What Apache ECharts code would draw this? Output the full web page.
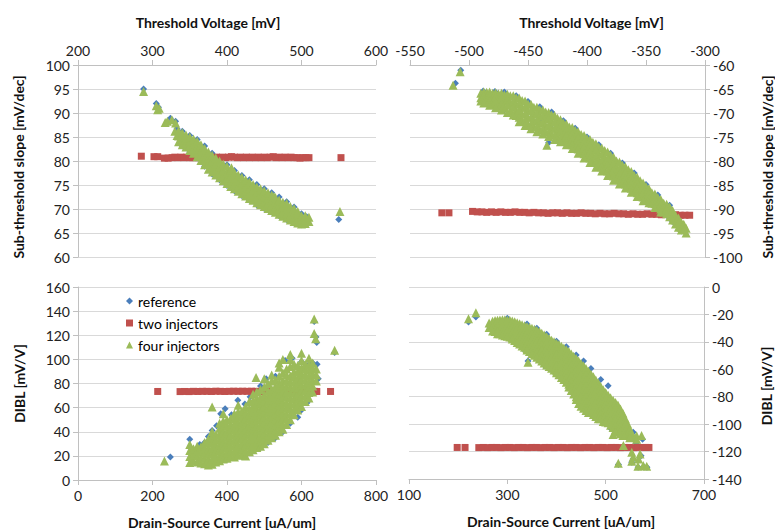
<!DOCTYPE html>
<html><head><meta charset="utf-8">
<script src="https://cdn.jsdelivr.net/npm/echarts/dist/echarts.min.js"></script>
<style>html,body{margin:0;padding:0;background:#fff}#c{width:775px;height:531px}</style>
</head><body><div id="c"></div>
<script>
// ---- series names ----
const seriesNames = ['reference', 'two injectors', 'four injectors'];

// ---- axis ranges [min, max, interval] ----
const tlXRange = [200, 600, 100];
const tlYRange = [60, 100, 5];
const trXRange = [-550, -300, 50];
const trYRange = [-100, -60, 5];
const blXRange = [0, 800, 200];
const blYRange = [0, 160, 20];
const brXRange = [100, 700, 200];
const brYRange = [-140, 0, 20];

// ---- axis titles ----
const vthTitle = 'Threshold Voltage [mV]';
const ssTitle = 'Sub-threshold slope [mV/dec]';
const dibTitle = 'DIBL [mV/V]';
const idsTitle = 'Drain-Source Current [uA/um]';

// ================= TOP-LEFT: SS vs Vth (nFET) =================
// columns: [x, y1, y2, ...]
const tlRef = [
 [288,95.0],[305,92.0],[308,91.2],[324,88.9],[331,88.3],[333,86.7],
 [340,86.2,84.5,83.1],[350,85.3,83.6,81.9],[360,84.5,82.5,80.6],[370,83.1,81.0,78.9],
 [380,81.6,79.5,77.3],[390,80.4,78.3,76.1],[400,79.2,77.0,74.9],[410,78.0,75.9,73.8],
 [420,77.0,74.9,72.8],[430,76.1,74.0,71.8],[440,75.1,73.0,70.9],[450,74.2,72.1,70.1],
 [460,73.4,71.3,69.4],[470,72.5,70.5,68.6],[480,71.5,69.6,67.8],[490,70.4,68.8,67.1],
 [500,69.0,67.8,66.7],[507,68.4,67.2],[550,67.8]
];
const tlTwo = [
 [285,81.0],[302,80.9],[307,80.9],[316,80.6],[321,80.6],[326,80.7],[330,80.8],[334,80.7],[338,80.8],
 [342,80.7],[346,80.8],[350,80.7],[354,80.7],[358,80.8],[362,80.7],[366,80.8],[370,80.7],[374,80.8],
 [378,80.6],[382,80.7],[386,80.8],[390,80.7],[394,80.8],[398,80.7],[402,80.8],[406,80.9],[410,80.8],
 [414,80.7],[418,80.8],[422,80.7],[426,80.8],[430,80.7],[434,80.8],[438,80.7],[442,80.8],[446,80.7],
 [450,80.8],[454,80.7],[458,80.8],[462,80.9],[466,80.7],[470,80.8],[474,80.7],[478,80.8],[482,80.7],
 [486,80.8],[490,80.7],[494,80.7],[498,80.6],[502,80.7],[506,80.7],[510,80.7],[553,80.7]
];
const tlFour = [
 [288,94.5],[305,91.5],[307,90.7],[309,91.0],[317,88.0],[320,88.3],[326,88.6],[331,87.9],[330,86.2],[333,85.3],
 [335,84.0,85.2,86.3],[340,83.4,84.3,85.3,85.9],[345,82.9,83.8,84.8,85.4],[350,82.2,83.2,84.1,85.0],
 [355,81.6,82.6,83.6,84.6],[360,80.9,81.9,83.0,84.1],[365,80.1,81.1,82.2,83.4],[370,79.2,80.3,81.4,82.6],
 [375,78.3,79.5,80.7,81.9],[380,77.7,78.8,80.0,81.2],[385,77.1,78.2,79.4,80.6],[390,76.5,77.6,78.8,80.0],
 [395,75.9,77.0,78.2,79.4],[400,75.3,76.4,77.6,78.9],[405,74.7,75.8,77.0,78.2],[406,78.6],
 [410,74.2,75.3,76.4,77.6],[415,73.7,74.8,75.9,77.1],[420,73.2,74.3,75.4,76.6],[425,72.7,73.8,74.9,76.1],
 [430,72.2,73.3,74.4,75.6],[435,71.8,72.9,74.0,75.1],[440,71.3,72.4,73.5,74.6],[445,70.9,72.0,73.1,74.2],
 [450,70.5,71.6,72.7,73.8],[455,70.1,71.2,72.3,73.4],[460,69.7,70.8,71.9,72.9],[463,72.6],
 [465,69.3,70.4,71.5,72.4],[470,68.9,70.0,71.0,71.9],[475,68.5,69.5,70.5,71.4],[480,68.1,69.1,70.1,71.2],
 [485,67.7,68.7,69.7,70.5],[490,67.4,68.3,69.3,70.1],[495,67.1,68.0,68.9,69.5],[500,66.9,67.8,68.6],
 [505,67.0,67.8,68.6],[510,67.4,68.3],[551.6,69.5]
];

// ================= TOP-RIGHT: SS vs Vth (pFET) =================
const trRef = [
 [-507,-61.1],[-511.5,-63.8],[-432.5,-76.2],
 [-488,-65.4,-66.8,-68.0],[-478,-65.5,-67.0,-68.8],[-470,-65.6,-67.5,-69.4],[-460,-66.4,-68.5,-70.8],
 [-450,-67.6,-70.0,-72.6],[-440,-68.7,-71.3,-73.8],[-430,-69.8,-72.4,-74.9],[-420,-71.6,-73.8,-76.0],
 [-410,-73.2,-75.3,-77.4],[-400,-75.0,-77.2,-79.3],[-390,-76.6,-79.0,-81.3],[-380,-78.4,-80.8,-83.0],
 [-370,-80.4,-82.7,-84.8],[-360,-82.5,-84.6,-86.6],[-350,-84.9,-86.7,-88.3],[-340,-87.1,-88.6,-90.0],
 [-330,-89.2,-90.7,-92.0],[-325,-93.2],[-320,-94.6],[-318,-93.8]
];
const trTwo = [
 [-523,-90.8],[-517,-90.8],[-497,-90.5],[-493,-90.6],[-489,-90.6],[-485,-90.7],[-481,-90.6],[-477,-90.7],
 [-473,-90.6],[-469,-90.7],[-465,-90.7],[-461,-90.6],[-457,-90.7],[-453,-90.7],[-449,-90.8],[-445,-90.7],
 [-441,-90.8],[-437,-90.8],[-433,-90.9],[-429,-90.8],[-425,-90.8],[-421,-90.9],[-417,-90.8],[-413,-90.9],
 [-409,-90.9],[-405,-90.8],[-401,-90.9],[-397,-90.9],[-393,-91.0],[-389,-90.9],[-385,-91.0],[-381,-91.0],
 [-377,-90.9],[-373,-91.0],[-369,-91.0],[-365,-91.1],[-361,-91.0],[-357,-91.1],[-353,-91.1],[-349,-91.0],
 [-345,-91.1],[-341,-91.1],[-337,-91.2],[-333,-91.1],[-329,-91.2],[-325,-91.2],[-321,-91.3],[-317,-91.3],[-313,-91.3]
];
const trFour = [
 [-513.5,-64.2],[-507.5,-61.4],[-434,-76.7],
 [-490,-65.9,-66.8,-67.5],[-485,-65.7,-66.7,-67.7],[-480,-65.9,-67.0,-68.1],[-475,-66.0,-67.2,-68.5],
 [-470,-66.2,-67.5,-68.9],[-465,-66.4,-67.8,-69.5],[-460,-66.8,-68.2,-69.5,-70.5],[-455,-67.4,-68.8,-70.2,-71.5],
 [-450,-68.1,-69.5,-70.9,-72.3],[-445,-68.8,-70.2,-71.6,-72.9],[-440,-69.3,-70.7,-72.1,-73.5],
 [-435,-69.8,-71.2,-72.6,-74.0],[-430,-70.4,-71.8,-73.2,-74.5],[-425,-71.1,-72.5,-73.9,-75.1],
 [-420,-72.1,-73.4,-74.6,-75.6],[-415,-72.9,-74.1,-75.3,-76.2],[-410,-73.6,-74.8,-76.0,-77.1],
 [-405,-74.5,-75.7,-76.9,-78.1],[-400,-75.3,-76.6,-77.8,-79.0],[-395,-76.1,-77.4,-78.7,-80.0],
 [-390,-77.1,-78.4,-79.7,-81.0],[-385,-77.8,-79.2,-80.5,-81.8],[-380,-78.8,-80.1,-81.4,-82.7],
 [-375,-80.0,-81.3,-82.5,-83.7],[-370,-80.9,-82.1,-83.3,-84.5],[-365,-81.8,-83.0,-84.2,-85.3],
 [-360,-83.0,-84.2,-85.3,-86.3],[-355,-84.1,-85.2,-86.2,-87.1],[-350,-85.3,-86.3,-87.2,-88.0],
 [-345,-86.6,-87.6,-88.8],[-340,-87.6,-88.7,-89.7],[-335,-88.8,-89.8,-90.6],[-330,-89.6,-90.6,-91.6],
 [-325,-91.3,-92.3,-93.1],[-320,-92.8,-93.8,-94.4],[-316,-94.0,-95.0],
 [-487.5,-65.6,-66.4,-67.2,-67.9],[-482.5,-65.6,-66.4,-67.4,-68.4],[-477.5,-65.8,-66.6,-67.7,-68.9],
 [-472.5,-65.9,-66.8,-68.0,-69.4],[-467.5,-66.1,-67.1,-68.4,-69.9],[-462.5,-66.4,-67.5,-68.8,-70.4],
 [-457.5,-66.9,-68.0,-69.4,-70.9,-71.8],[-452.5,-67.5,-68.8,-70.2,-71.6,-72.6],[-447.5,-68.2,-69.5,-70.9,-72.3,-73.3],
 [-442.5,-68.8,-70.0,-71.4,-72.8,-73.9],[-437.5,-69.3,-70.5,-71.9,-73.3,-74.4],[-432.5,-69.9,-71.1,-72.5,-73.9,-74.9],
 [-427.5,-70.5,-71.8,-73.2,-74.6,-75.5],[-422.5,-71.4,-72.6,-73.9,-75.2,-76.0],[-417.5,-72.3,-73.5,-74.7,-75.9,-76.6],
 [-412.5,-73.0,-74.2,-75.4,-76.6,-77.4],[-407.5,-73.9,-75.1,-76.3,-77.5,-78.4],[-402.5,-74.7,-75.9,-77.2,-78.5,-79.4],
 [-397.5,-75.5,-76.8,-78.1,-79.4,-80.3],[-392.5,-76.4,-77.7,-79.0,-80.3,-81.3],[-387.5,-77.3,-78.6,-79.9,-81.2,-82.1],
 [-382.5,-78.1,-79.5,-80.8,-82.1,-83.0],[-377.5,-79.2,-80.5,-81.8,-83.1,-84.0],[-372.5,-80.2,-81.5,-82.7,-83.9,-84.8],
 [-367.5,-81.2,-82.4,-83.6,-84.8,-85.6],[-362.5,-82.2,-83.4,-84.6,-85.7,-86.5],[-357.5,-83.4,-84.5,-85.6,-86.6,-87.4],
 [-352.5,-84.6,-85.6,-86.6,-87.5,-88.3],[-347.5,-85.8,-86.8,-87.8,-88.7],[-342.5,-86.9,-87.9,-88.9,-89.7],
 [-337.5,-88.0,-89.0,-90.0,-90.6],[-332.5,-89.0,-90.0,-91.0],[-327.5,-90.3,-91.3,-92.3],[-322.5,-91.9,-92.9,-93.8],
 [-318,-93.2,-94.2]
];

// ================= BOTTOM-LEFT: DIBL vs Ids (nFET) =================
const blRef = [
 [248,19.0],[300,33.8],[318,25.5],[336,24.5],[327,29.5],[340,31],[350,36],[360,41],[372,45],[383,55],
 [395,59],[412,54],[429,66.2],[448,63],[462,69],[490,78],[505,84],[530,86],[556,99],[575,101],[600,98],
 [615,95],[630,97],[370,14],[400,17],[440,19.5],[470,24],[490,27],[510,31],[530,35],[550,40],[570,47],
 [590,52],[600,58],[615,64],[628,72],[645,84],[634,131.5],[639,118.5],[641,114],[689,105.8],[642,96],
 [450,40],[500,55],[550,70],[420,35]
];
const blTwo = [
 [214,73.4],[274,73.3],[286,73.4],[298,73.3],[310,73.5],[322,73.4],[334,73.5],[346,73.5],[358,73.4],
 [370,73.6],[382,73.5],[394,73.4],[406,73.5],[418,73.6],[430,73.5],[442,73.6],[454,73.5],[466,73.6],
 [478,73.5],[490,73.4],[502,73.5],[514,73.6],[526,73.5],[538,73.5],[550,73.4],[562,73.6],[574,73.5],
 [586,73.4],[598,73.5],[610,73.5],[622,73.4],[634,73.5],[641,73.4],[678,73.4]
];
const blFour = [
 [232,15.7],[300,14.5,19.5,24.5,29.5],[310,16,21,26],[320,15,20,24.5,28],[330,14,18.5,23,27.5],
 [340,13.5,18,22.5,27,31],[350,12.5,17,21.5,26,30.5,34],[360,13,17.5,22,26.5,31,36,40,60.5],
 [370,15,19.5,24,28.5,33,37.5],[380,16,20.5,25,29.5,34,38.5,43,47],
 [390,17.5,22,26.5,31,35.5,40,44.5,49,55],[400,18,22.5,27,31.5,36,40.5,45,50],
 [410,19.5,24,28.5,33,37.5,42,46.5,51],[420,19,23.5,28,32.5,37,41.5,46,50.5,55],
 [430,20.5,25,29.5,34,38.5,43,47.5,52,56.5,62],[440,21,25.5,30,34.5,39,43.5,48,52.5,57],
 [450,20,24.5,29,33.5,38,42.5,47,51.5,56,61],[460,23.5,28,32.5,37,41.5,46,50.5,55,59.5,65],
 [470,25,29.5,34,38.5,43,47.5,52,56.5,61,66,71],[478,85],
 [480,27,31.5,36,40.5,45,49.5,54,58.5,63,67.5,73],[490,28,32.5,37,41.5,46,50.5,55,59.5,64,68.5,75],
 [500,30,34.5,39,43.5,48,52.5,57,61.5,66,70.5,77,84],[510,33,37.5,42,46.5,51,55.5,60,64.5,69,73.5,80],
 [520,35,39.5,44,48.5,53,57.5,62,66.5,71,75.5,82,87],[530,37,41.5,46,50.5,55,59.5,64,68.5,73,77.5,83],
 [540,40,44.5,49,53.5,58,62.5,67,71.5,76,80.5,86,93.5,97],[550,42,46.5,51,55.5,60,64.5,69,73.5,78,82.5,89,100],
 [560,46,50.5,55,59.5,64,68.5,73,77.5,82,87,92],[570,50,54.5,59,63.5,68,72.5,77,81.5,86,94,100,104],
 [580,54,58.5,63,67.5,72,76.5,81,85.5,90,96],[590,58,62.5,67,71.5,76,80.5,85,90,95],
 [600,61,65.5,70,74.5,79,83.5,88,93,99,105],[610,65,69.5,74,78.5,83,87.5,92,96],
 [620,68,72.5,77,81.5,86,91,95.5,101],[630,73,78,83,88,93,97],[640,82,87,92],
 [634,121.5,133.5],[638,117],[689,107.5]
];

// ================= BOTTOM-RIGHT: DIBL vs Ids (pFET) =================
const brRef = [
 [221,-25.5],[236,-21.8],[265,-29.8],[280,-33.5],[290,-35.5],[300,-37],[310,-38.5],[320,-41],[332,-45],
 [342,-54],[350,-48.5],[362,-52.5],[375,-57],[390,-60.5],[400,-63.5],[410,-66],[420,-70],[430,-74],
 [440,-81],[450,-87],[460,-91],[470,-93],[480,-95.5],[490,-97],[500,-99],[510,-103],[520,-106],[530,-108],
 [490,-67.5],[470,-59.5],[455,-54],[440,-49.5],[420,-43.5],[400,-39.5],[380,-34.5],[360,-30],[340,-27],
 [300,-22.8],[556,-106],[545,-107],[575,-111],[562,-114],[526,-129.5],[566,-131.5],[578,-131.3],
 [584,-131.5],[556,-125.5],[572,-123],[553,-127.8],[512,-92],[525,-92],[505,-72]
];
const brTwo = [
 [198,-117],[214,-117],[242,-117.1],[251,-117],[260,-117.1],[269,-117],[278,-117],[287,-117.1],[296,-117],
 [305,-117],[314,-117.1],[323,-117],[332,-117],[341,-117.1],[350,-117],[359,-117],[368,-117.1],[377,-117],
 [386,-117],[395,-117.1],[404,-117],[413,-117],[422,-117.1],[431,-117],[440,-117],[449,-117.1],[458,-117],
 [467,-117],[476,-117.1],[485,-117],[494,-117],[503,-117.1],[512,-117],[521,-117],[530,-117.1],[539,-117],
 [548,-117],[557,-117.1],[566,-117],[575,-117],[582,-117],[588,-117]
];
const brFour = [
 [221,-23.1],[236,-18.7],[263,-26.3,-29.5],[275,-24.5,-28.5,-32.5],[285,-24,-28,-32,-34],
 [295,-23.8,-27.8,-31.8,-35.5],[305,-24.2,-28.2,-32.2,-36.5],[315,-25.3,-29.3,-33.3,-37.3,-39],
 [325,-26.8,-30.8,-34.8,-38.8,-41.5],[335,-28.2,-32.2,-36.2,-40.2,-44],[342,-54.8],
 [345,-29.3,-33.3,-37.3,-41.3,-45.3,-47],[355,-30.8,-34.8,-38.8,-42.8,-46.8,-49.8],
 [365,-32.5,-36.5,-40.5,-44.5,-48.5,-52.5],[375,-35,-39,-43,-47,-51,-55.5],
 [385,-37.5,-41.5,-45.5,-49.5,-53.5,-58],[395,-40,-44,-48,-52,-56,-60.5],
 [405,-42,-46,-50,-54,-58,-62,-64],[415,-44.5,-48.5,-52.5,-56.5,-60.5,-64.5,-67.5],
 [425,-47,-51,-55,-59,-63,-67,-71,-73],[435,-50.5,-54.5,-58.5,-62.5,-66.5,-70.5,-74.5,-78],
 [445,-54,-58,-62,-66,-70,-74,-78,-82,-85],[455,-57.5,-61.5,-65.5,-69.5,-73.5,-77.5,-81.5,-85.5,-88.5],
 [465,-61.5,-65.5,-69.5,-73.5,-77.5,-81.5,-85.5,-89.5,-91.5],[475,-65.5,-69.5,-73.5,-77.5,-81.5,-85.5,-89.5,-93],
 [485,-70,-74,-78,-82,-86,-90,-94,-96],[495,-75,-79,-83,-87,-91,-95,-98],[505,-79,-83,-87,-91,-95,-99],
 [515,-82.5,-86.5,-90.5,-94.5,-98.5,-102.5,-107.5],[525,-86,-90,-94,-98,-102,-104],
 [535,-92,-96,-100,-104,-108.3],[545,-100,-104.5,-108.3],[553,-106.5,-109.5],[563,-108.5,-111],[573,-108.3],
 [536,-115.6],[553,-120.5,-127],[556,-124],[525.7,-128.5],[570,-121.7],[567,-125.5],[576.5,-130.2],
 [565.6,-130.7],[583.5,-130.7],
 [270,-25,-29,-32],[280,-24.3,-28.3,-32.3,-34],[290,-23.8,-27.8,-31.8,-35],[300,-24,-28,-32,-36],
 [310,-24.8,-28.8,-32.8,-36.8,-38],[320,-26,-30,-34,-38,-40.5],[330,-27.5,-31.5,-35.5,-39.5,-43],
 [340,-28.8,-32.8,-36.8,-40.8,-44.8,-46],[350,-30,-34,-38,-42,-46,-48.5],[360,-31.6,-35.6,-39.6,-43.6,-47.6,-51.2],
 [370,-33.8,-37.8,-41.8,-45.8,-49.8,-54],[380,-36.2,-40.2,-44.2,-48.2,-52.2,-56.8],
 [390,-38.8,-42.8,-46.8,-50.8,-54.8,-59.2],[400,-41,-45,-49,-53,-57,-61,-62.5],
 [410,-43.2,-47.2,-51.2,-55.2,-59.2,-63.2,-66],[420,-45.8,-49.8,-53.8,-57.8,-61.8,-65.8,-69.5],
 [430,-48.8,-52.8,-56.8,-60.8,-64.8,-68.8,-72.8,-75.5],[440,-52.2,-56.2,-60.2,-64.2,-68.2,-72.2,-76.2,-80,-82],
 [450,-55.8,-59.8,-63.8,-67.8,-71.8,-75.8,-79.8,-83.8,-87],[460,-59.5,-63.5,-67.5,-71.5,-75.5,-79.5,-83.5,-87.5,-90],
 [470,-63.5,-67.5,-71.5,-75.5,-79.5,-83.5,-87.5,-91.5],[480,-67.8,-71.8,-75.8,-79.8,-83.8,-87.8,-91.8,-94.5],
 [490,-72.5,-76.5,-80.5,-84.5,-88.5,-92.5,-96],[500,-77,-81,-85,-89,-93,-97,-98.5],
 [510,-80.8,-84.8,-88.8,-92.8,-96.8,-100.8],[520,-84.2,-88.2,-92.2,-96.2,-100.2,-104,-106],
 [530,-89,-93,-97,-101,-105,-107],[540,-96,-100,-104,-108],[549,-104,-107.5,-110]
];

// ---- helpers ----
function pts(cols) { const out = []; cols.forEach(c => { for (let i = 1; i < c.length; i++) out.push([c[0], c[i]]); }); return out; }

const FONT = 'Lato, "Liberation Sans", sans-serif';
const colors = ['#4A7EBB', '#C0504D', '#9BBB59'];
const symbols = ['diamond', 'rect', 'triangle'];
const sizes = [7, 7, 9];
const AXIS_COLOR = '#c0c0c0';
const GRID_COLOR = '#d9d9d9';
const TEXT_COLOR = '#222';

function xAxisDef(gi, range, pos, name, gap, pad) {
  return {
    type: 'value', gridIndex: gi, position: pos, min: range[0], max: range[1], interval: range[2],
    axisLine: { show: true, onZero: false, lineStyle: { color: AXIS_COLOR } },
    axisTick: { show: true, length: 5, lineStyle: { color: AXIS_COLOR } },
    splitLine: { show: false },
    axisLabel: { fontSize: 14, color: TEXT_COLOR, fontFamily: FONT, margin: 8 },
    name: name, nameLocation: 'middle', nameGap: gap,
    nameTextStyle: { fontSize: 14, fontWeight: 'bold', color: '#111', fontFamily: FONT, padding: pad }
  };
}
function yAxisDef(gi, range, pos, name, gap, pad) {
  return {
    type: 'value', gridIndex: gi, position: pos, min: range[0], max: range[1], interval: range[2],
    axisLine: { show: true, onZero: false, lineStyle: { color: AXIS_COLOR } },
    axisTick: { show: true, length: 5, lineStyle: { color: AXIS_COLOR } },
    splitLine: { show: true, lineStyle: { color: GRID_COLOR } },
    axisLabel: { fontSize: 14, color: TEXT_COLOR, fontFamily: FONT, margin: 8 },
    name: name, nameLocation: 'middle', nameGap: gap,
    nameTextStyle: { fontSize: 14, fontWeight: 'bold', color: '#111', fontFamily: FONT, padding: pad }
  };
}

const panels = [
  [tlRef, tlTwo, tlFour],
  [trRef, trTwo, trFour],
  [blRef, blTwo, blFour],
  [brRef, brTwo, brFour]
];

const series = [];
panels.forEach((p, gi) => {
  p.forEach((d, si) => {
    series.push({
      type: 'scatter', name: seriesNames[si], xAxisIndex: gi, yAxisIndex: gi,
      data: si === 1 ? d : pts(d),
      symbol: symbols[si], symbolSize: sizes[si],
      itemStyle: { color: colors[si], opacity: 1 },
      emphasis: { disabled: true }
    });
  });
});

const chart = echarts.init(document.getElementById('c'), null, { renderer: 'svg' });
chart.setOption({
  animation: false,
  backgroundColor: '#fff',
  textStyle: { fontFamily: FONT },
  grid: [
    { left: 78, top: 65, width: 298, height: 192 },
    { left: 410, top: 65, width: 298, height: 192 },
    { left: 78, top: 287, width: 298, height: 193 },
    { left: 409, top: 287, width: 295, height: 192 }
  ],
  xAxis: [
    xAxisDef(0, tlXRange, 'top', vthTitle, 36, [0, 38, 0, 0]),
    xAxisDef(1, trXRange, 'top', vthTitle, 36, [0, 0, 0, 68]),
    xAxisDef(2, blXRange, 'bottom', idsTitle, 35, [0, 10, 0, 0]),
    xAxisDef(3, brXRange, 'bottom', idsTitle, 35, [0, 0, 0, 9])
  ],
  yAxis: [
    yAxisDef(0, tlYRange, 'left', ssTitle, 53, [0, 12, 0, 0]),
    yAxisDef(1, trYRange, 'right', ssTitle, 55, [0, 12, 0, 0]),
    yAxisDef(2, blYRange, 'left', dibTitle, 52, [0, 0, 0, 0]),
    yAxisDef(3, brYRange, 'right', dibTitle, 55, [0, 6, 0, 0])
  ],
  legend: {
    data: seriesNames, orient: 'vertical', left: 121, top: 289,
    itemWidth: 7, itemHeight: 7, itemGap: 8,
    textStyle: { fontSize: 14, color: '#000', fontFamily: FONT, lineHeight: 14 },
    selectedMode: false
  },
  series: series
});
</script></body></html>
